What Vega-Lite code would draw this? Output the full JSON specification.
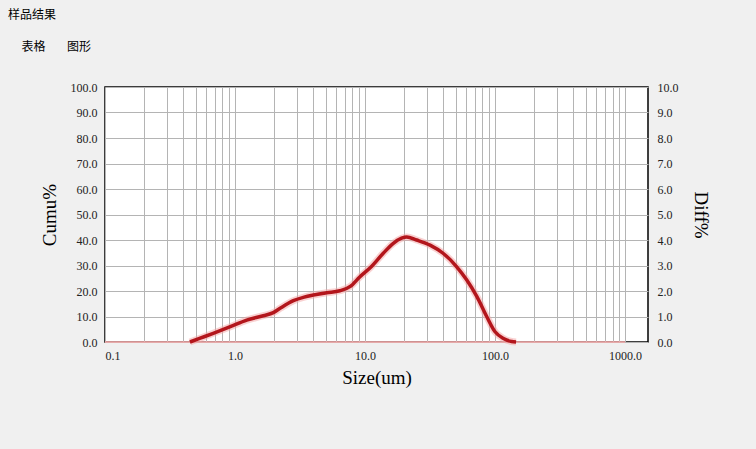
{
  "$schema": "https://vega.github.io/schema/vega-lite/v6.json",
  "width": 543,
  "height": 255,
  "autosize": "none",
  "padding": {"left": 105, "top": 87, "right": 108, "bottom": 107},
  "background": "#f0f0f0",
  "title": {
    "text": "样品结果",
    "subtitle": "\u200b\u00a0\u00a0\u00a0\u00a0\u00a0表格\u00a0\u00a0\u00a0\u00a0\u00a0\u00a0\u00a0\u00a0图形",
    "anchor": "start",
    "frame": "group",
    "dx": -97,
    "offset": 27,
    "font": "Noto Sans CJK SC",
    "fontSize": 12,
    "fontWeight": "normal",
    "color": "#000000",
    "subtitleFont": "Noto Sans CJK SC",
    "subtitleFontSize": 12,
    "subtitleColor": "#000000",
    "subtitlePadding": 20
  },
  "config": {
    "view": {"stroke": "#000000", "strokeWidth": 1.5, "fill": "#ffffff"}
  },
  "datasets": {
    "curve": [
      {"size": 0.45, "diff": 0},
      {"size": 0.54, "diff": 0.15},
      {"size": 0.68, "diff": 0.34},
      {"size": 0.92, "diff": 0.6},
      {"size": 1.23, "diff": 0.86},
      {"size": 1.65, "diff": 1.03},
      {"size": 1.97, "diff": 1.15},
      {"size": 2.22, "diff": 1.32},
      {"size": 2.81, "diff": 1.62},
      {"size": 3.4, "diff": 1.76},
      {"size": 4.0, "diff": 1.84},
      {"size": 5.07, "diff": 1.93},
      {"size": 6.4, "diff": 2.01},
      {"size": 7.7, "diff": 2.18},
      {"size": 9.1, "diff": 2.55},
      {"size": 11.0, "diff": 2.92},
      {"size": 13.8, "diff": 3.48},
      {"size": 16.5, "diff": 3.87},
      {"size": 19.1, "diff": 4.07},
      {"size": 20.9, "diff": 4.12},
      {"size": 24.9, "diff": 4.0},
      {"size": 31.6, "diff": 3.8},
      {"size": 39.8, "diff": 3.48},
      {"size": 50.7, "diff": 2.95},
      {"size": 60.6, "diff": 2.43},
      {"size": 72.5, "diff": 1.78},
      {"size": 86.4, "diff": 0.99},
      {"size": 100, "diff": 0.4},
      {"size": 116, "diff": 0.14},
      {"size": 134, "diff": 0.02},
      {"size": 145, "diff": 0}
    ],
    "base": [
      {"size": 0.1, "diff": 0},
      {"size": 1000, "diff": 0}
    ]
  },
  "encoding": {
    "x": {
      "field": "size",
      "type": "quantitative",
      "scale": {"type": "log", "domain": [0.1, 1500], "nice": false},
      "axis": {
        "values": [0.1, 0.2, 0.3, 0.4, 0.5, 0.6, 0.7, 0.8, 0.9, 1, 2, 3, 4, 5, 6, 7, 8, 9, 10, 20, 30, 40, 50, 60, 70, 80, 90, 100, 200, 300, 400, 500, 600, 700, 800, 900, 1000],
        "labelExpr": "indexof([0.1, 1, 10, 100, 1000], datum.value) >= 0 ? format(datum.value, '.1f') : ''",
        "labelOverlap": false,
        "grid": true,
        "gridColor": "#b4b4b4",
        "gridWidth": 1,
        "gridOpacity": 1,
        "ticks": false,
        "domain": false,
        "labelFont": "Liberation Serif",
        "labelFontSize": 12,
        "labelColor": "#222222",
        "labelPadding": 8,
        "title": "Size(um)",
        "titleFont": "Liberation Serif",
        "titleFontSize": 19,
        "titleFontWeight": "normal",
        "titleColor": "#000000",
        "titlePadding": 7
      }
    }
  },
  "layer": [
    {
      "data": {"name": "base"},
      "mark": {"type": "line", "color": "#f2a8a8", "strokeWidth": 2, "opacity": 0.8},
      "encoding": {
        "y": {
          "field": "diff",
          "type": "quantitative",
          "scale": {"domain": [0, 10], "nice": false},
          "axis": {
            "orient": "left",
            "values": [0, 1, 2, 3, 4, 5, 6, 7, 8, 9, 10],
            "labelExpr": "format(datum.value * 10, '.1f')",
            "grid": true,
            "gridColor": "#b4b4b4",
            "gridWidth": 1,
            "gridOpacity": 1,
            "ticks": false,
            "domain": false,
            "labelFont": "Liberation Serif",
            "labelFontSize": 12,
            "labelColor": "#222222",
            "labelPadding": 8,
            "title": "Cumu%",
            "titleFont": "Liberation Serif",
            "titleFontSize": 19,
            "titleFontWeight": "normal",
            "titleColor": "#000000",
            "titlePadding": 11
          }
        }
      }
    },
    {
      "data": {"name": "curve"},
      "mark": {"type": "line", "color": "#f4a3a3", "strokeWidth": 7, "opacity": 0.5, "interpolate": "monotone"},
      "encoding": {
        "y": {
          "field": "diff",
          "type": "quantitative",
          "scale": {"domain": [0, 10], "nice": false},
          "axis": null
        }
      }
    },
    {
      "data": {"name": "curve"},
      "mark": {"type": "line", "color": "#b3161c", "strokeWidth": 3.5, "interpolate": "monotone"},
      "encoding": {
        "y": {
          "field": "diff",
          "type": "quantitative",
          "scale": {"domain": [0, 10], "nice": false},
          "axis": {
            "orient": "right",
            "values": [0, 1, 2, 3, 4, 5, 6, 7, 8, 9, 10],
            "format": ".1f",
            "grid": false,
            "ticks": false,
            "domain": false,
            "labelFont": "Liberation Serif",
            "labelFontSize": 12,
            "labelColor": "#222222",
            "labelPadding": 9,
            "title": "Diff%",
            "titleAngle": 90,
            "titleFont": "Liberation Serif",
            "titleFontSize": 19,
            "titleFontWeight": "normal",
            "titleColor": "#000000",
            "titlePadding": 12
          }
        }
      }
    }
  ],
  "resolve": {"axis": {"y": "independent"}, "scale": {"y": "shared"}}
}
